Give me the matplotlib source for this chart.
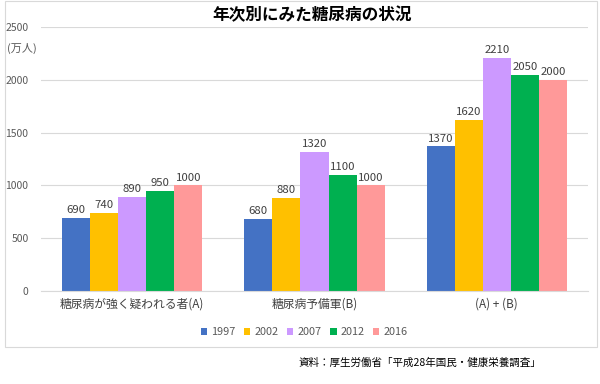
import matplotlib
matplotlib.use('Agg')
import matplotlib.pyplot as plt
from matplotlib.patches import Rectangle
import numpy as np

plt.rcParams['font.family'] = ['Noto Sans CJK JP', 'DejaVu Sans']

# data
categories = ['糖尿病が強く疑われる者(A)', '糖尿病予備軍(B)', '(A) + (B)']
years = ['1997', '2002', '2007', '2012', '2016']
values = {
    '1997': [690, 680, 1370],
    '2002': [740, 880, 1620],
    '2007': [890, 1320, 2210],
    '2012': [950, 1100, 2050],
    '2016': [1000, 1000, 2000],
}
colors = ['#4472C4', '#FFC000', '#CC99FF', '#00B050', '#FF9999']

fig = plt.figure(figsize=(6, 3.84), dpi=100)
ax = fig.add_axes([41 / 600, 1 - 291 / 384, 547 / 600, 264 / 384])

x = np.arange(len(categories))
bar_w = 0.154
for i, (yr, c) in enumerate(zip(years, colors)):
    pos = x + (i - 2) * bar_w
    bars = ax.bar(pos, values[yr], bar_w, color=c, label=yr, zorder=2)
    ax.bar_label(bars, padding=2, fontsize=8.2, color='#404040')

ax.set_xlim(-0.5, 2.5)
ax.set_ylim(0, 2500)
ax.set_yticks(range(0, 2501, 500))
ax.grid(axis='y', color='#D9D9D9', lw=0.8, zorder=0)
ax.set_axisbelow(True)
for s in ['top', 'right', 'left']:
    ax.spines[s].set_visible(False)
ax.spines['bottom'].set_color('#D9D9D9')
ax.tick_params(length=0, labelsize=7.5, colors='#595959', pad=9)
ax.set_xticks(x)
ax.set_xticklabels(categories, fontsize=8.5, color='#404040')
ax.tick_params(axis='x', pad=5)

fig.text(312 / 600, 1 - 15 / 384, '年次別にみた糖尿病の状況', ha='center', va='center',
         fontsize=12, fontweight='bold', color='#000000')
fig.text(7 / 600, 1 - 48 / 384, '(万人)', ha='left', va='center', fontsize=8, color='#595959')

leg = ax.legend(loc='center', bbox_to_anchor=(304 / 600, 1 - 332 / 384),
                bbox_transform=fig.transFigure, ncol=5, frameon=False, fontsize=7.8,
                handlelength=0.6, handleheight=0.6, handletextpad=0.35, columnspacing=0.8)
for t in leg.get_texts():
    t.set_color('#595959')

fig.patches.append(Rectangle((5 / 600, 1 - 347 / 384), 592 / 600, 346 / 384,
                             transform=fig.transFigure, fill=False, edgecolor='#D9D9D9', lw=0.8))

fig.text(541 / 600, 1 - 363 / 384, '資料：厚生労働省「平成28年国民・健康栄養調査」', ha='right', va='center',
         fontsize=7.6, color='#000000')

fig.savefig('out.png', dpi=100)
